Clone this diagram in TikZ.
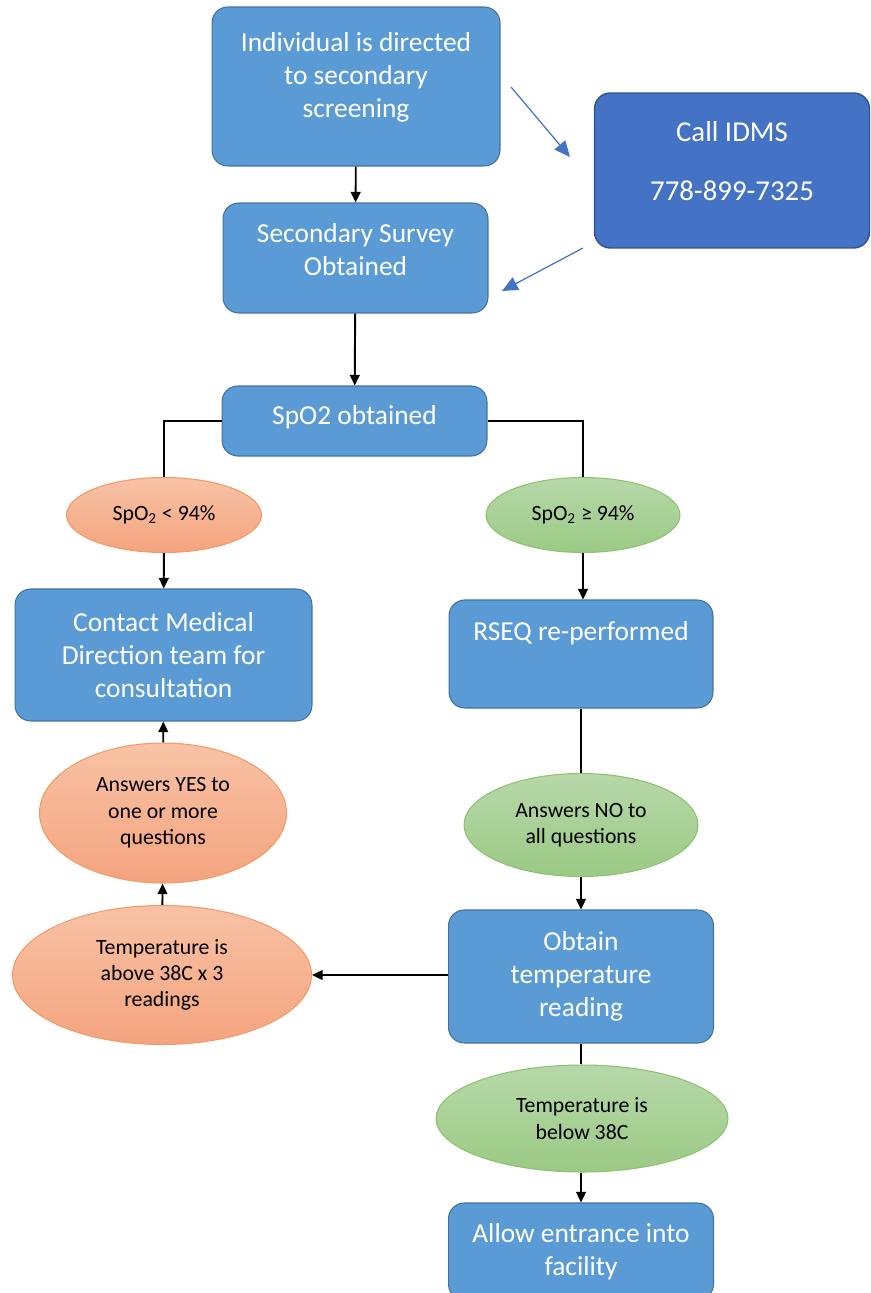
\documentclass[tikz,border=0pt]{standalone}
\usepackage{fontspec}
\setmainfont{Carlito}
\usetikzlibrary{arrows.meta,shapes.geometric}

\definecolor{boxblue}{HTML}{5B9BD5}
\definecolor{boxedge}{HTML}{41719C}
\definecolor{callblue}{HTML}{4472C4}
\definecolor{calledge}{HTML}{2F528F}
\definecolor{orangetop}{HTML}{F8C2A6}
\definecolor{orangebot}{HTML}{F4A47E}
\definecolor{orangeedge}{HTML}{F19A66}
\definecolor{greentop}{HTML}{B7D8A9}
\definecolor{greenbot}{HTML}{9BCA85}
\definecolor{greenedge}{HTML}{8DC26F}

\begin{document}
\begin{tikzpicture}[x=0.02cm,y=-0.02cm,
    stepbox/.style={draw=boxedge,line width=0.6pt,rounded corners=9pt,fill=boxblue,
        text=white,align=center,inner sep=0pt,
        font=\fontsize{15.6}{18.8}\selectfont},
    callbox/.style={stepbox,draw=calledge,fill=callblue,line width=0.8pt,
        font=\fontsize{16.4}{19.5}\selectfont},
    nogo/.style={ellipse,draw=orangeedge,line width=0.6pt,top color=orangetop,
        bottom color=orangebot,align=center,inner sep=0pt,
        font=\fontsize{12.4}{15}\selectfont},
    go/.style={nogo,draw=greenedge,top color=greentop,bottom color=greenbot},
    flow/.style={-{Triangle[length=6pt,width=5.5pt]},draw,line width=1.1pt},
    branch/.style={draw,line width=1.1pt},
    hint/.style={-{Triangle[length=9pt,width=8pt]},draw=callblue,line width=0.7pt}
]
    \useasboundingbox (0,0) rectangle (871,1293);

    \node[stepbox,minimum width=5.76cm,minimum height=3.18cm] (direct) at (356,86.5)
        {Individual is directed\\to secondary\\screening\\[-11pt]\strut};
    \node[callbox,minimum width=5.50cm,minimum height=3.10cm] (idms) at (732,170.5)
        {Call IDMS\\[14pt]778-899-7325\\[-15pt]\strut};
    \node[stepbox,minimum width=5.30cm,minimum height=2.20cm] (survey) at (355.5,258)
        {Secondary Survey\\Obtained\\[-15pt]\strut};
    \node[stepbox,minimum width=5.30cm,minimum height=1.40cm] (spo2) at (354.5,421)
        {SpO2 obtained\\[-17.5pt]\strut};

    \node[nogo,minimum width=3.90cm,minimum height=1.50cm] (low) at (164,515)
        {SpO\textsubscript{2} < 94\%};
    \node[go,minimum width=3.88cm,minimum height=1.50cm] (high) at (583,515)
        {SpO\textsubscript{2} ≥ 94\%};

    \node[stepbox,minimum width=5.94cm,minimum height=2.64cm] (contact) at (163.5,655)
        {Contact Medical\\Direction team for\\consultation};
    \node[stepbox,minimum width=5.28cm,minimum height=2.16cm] (rseq) at (581,654)
        {RSEQ re-performed\\[2pt]\strut};

    \node[nogo,minimum width=4.94cm,minimum height=2.80cm] (yes) at (163,813)
        {Answers YES to\\one or more\\questions};
    \node[go,minimum width=4.68cm,minimum height=2.06cm] (no) at (581,825)
        {Answers NO to\\all questions};

    \node[nogo,minimum width=5.98cm,minimum height=2.78cm] (above) at (162,975)
        {Temperature is\\above 38C x 3\\readings};
    \node[stepbox,minimum width=5.30cm,minimum height=2.66cm] (obtain) at (581,976.5)
        {Obtain\\temperature\\reading};

    \node[go,minimum width=5.84cm,minimum height=2.14cm] (below) at (582,1118.5)
        {Temperature is\\below 38C};
    \node[stepbox,minimum width=5.30cm,minimum height=1.94cm] (allow) at (581,1251.5)
        {Allow entrance into\\facility};

    % main path
    \draw[flow] (direct)--(survey);
    \draw[flow] (survey)--(spo2);
    \draw[branch] (spo2.west) -| (low.north);
    \draw[branch] (spo2.east) -| (high.north);
    \draw[flow] (low)--(contact);
    \draw[flow] (high.south) -- (high.south |- rseq.north);
    \draw[branch] (rseq.south) -- (rseq.south |- no.north);
    \draw[flow] (no)--(obtain);
    \draw[flow] (obtain.west |- above.east)--(above.east);
    \draw[flow] (above)--(yes);
    \draw[flow] (yes)--(contact);
    \draw[branch] (obtain.south) -- (obtain.south |- below.north);
    \draw[flow] (below.south -| allow.north)--(allow.north);

    % side call
    \coordinate (toidms) at (511,87);
    \coordinate (atidms) at (570,157);
    \coordinate (fromidms) at (583,248);
    \coordinate (atsurvey) at (502,291);
    \draw[hint] (toidms)--(atidms);
    \draw[hint] (fromidms)--(atsurvey);
\end{tikzpicture}
\end{document}
